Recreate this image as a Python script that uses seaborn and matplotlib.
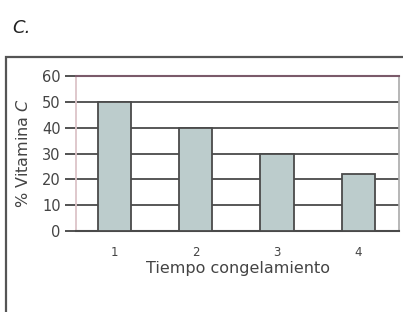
import matplotlib
matplotlib.use("Agg")
import matplotlib.pyplot as plt
import seaborn as sns
import pandas as pd
from matplotlib.patches import Rectangle

categories = ["1", "2", "3", "4"]
values = [50, 40, 30, 22]
yticks = [0, 10, 20, 30, 40, 50, 60]

sns.set_theme(style="white")
plt.rcParams['font.family'] = ['DejaVu Sans']

df = pd.DataFrame({"t": categories, "v": values})

fig = plt.figure(figsize=(4.03, 3.12), dpi=100)
W, H = 403, 312
ax = fig.add_axes([76 / W, (H - 231) / H, 323 / W, 155 / H])

sns.barplot(data=df, x="t", y="v", color="#bccccc", width=0.41,
            edgecolor="#4a4a4a", linewidth=1.3, saturation=1, ax=ax, zorder=3)

ax.set_ylim(0, 60)
ax.set_xlim(-0.47, 3.5)
ax.set_yticks(yticks)
ax.set_yticklabels([str(v) for v in yticks], fontsize=10.5, color="#444444")
ax.tick_params(axis="y", length=8, width=1.3, color="#444444", pad=3, left=True)
ax.tick_params(axis="x", length=0, labelsize=8.5, colors="#444444", pad=11)

for y in yticks[1:-1]:
    ax.axhline(y, color="#4a4a4a", linewidth=1.3, zorder=1)

for s in ["top", "bottom", "left", "right"]:
    ax.spines[s].set_visible(True)
ax.spines["top"].set_color("#7a5a6a")
ax.spines["top"].set_linewidth(1.5)
ax.spines["bottom"].set_color("#4a4a4a")
ax.spines["bottom"].set_linewidth(1.5)
ax.spines["left"].set_color("#dcc4c8")
ax.spines["left"].set_linewidth(1.3)
ax.spines["right"].set_color("#aaaaaa")
ax.spines["right"].set_linewidth(1.2)

ax.set_xlabel("Tiempo congelamiento", fontsize=11.5, color="#444444", labelpad=1)
ax.set_ylabel("% Vitamina $\\it{C}$", fontsize=11.5, color="#444444", labelpad=8)

fig.text(12 / W, 1 - 28 / H, "C.", fontsize=13, style="italic", color="#222222",
         va="center", ha="left")

frame = Rectangle((5.5 / W, -0.05), 1.2, (H - 57) / H + 0.05,
                  transform=fig.transFigure, fill=False,
                  edgecolor="#555555", linewidth=1.6, clip_on=False)
fig.patches.append(frame)

fig.savefig("out.png", dpi=100)
